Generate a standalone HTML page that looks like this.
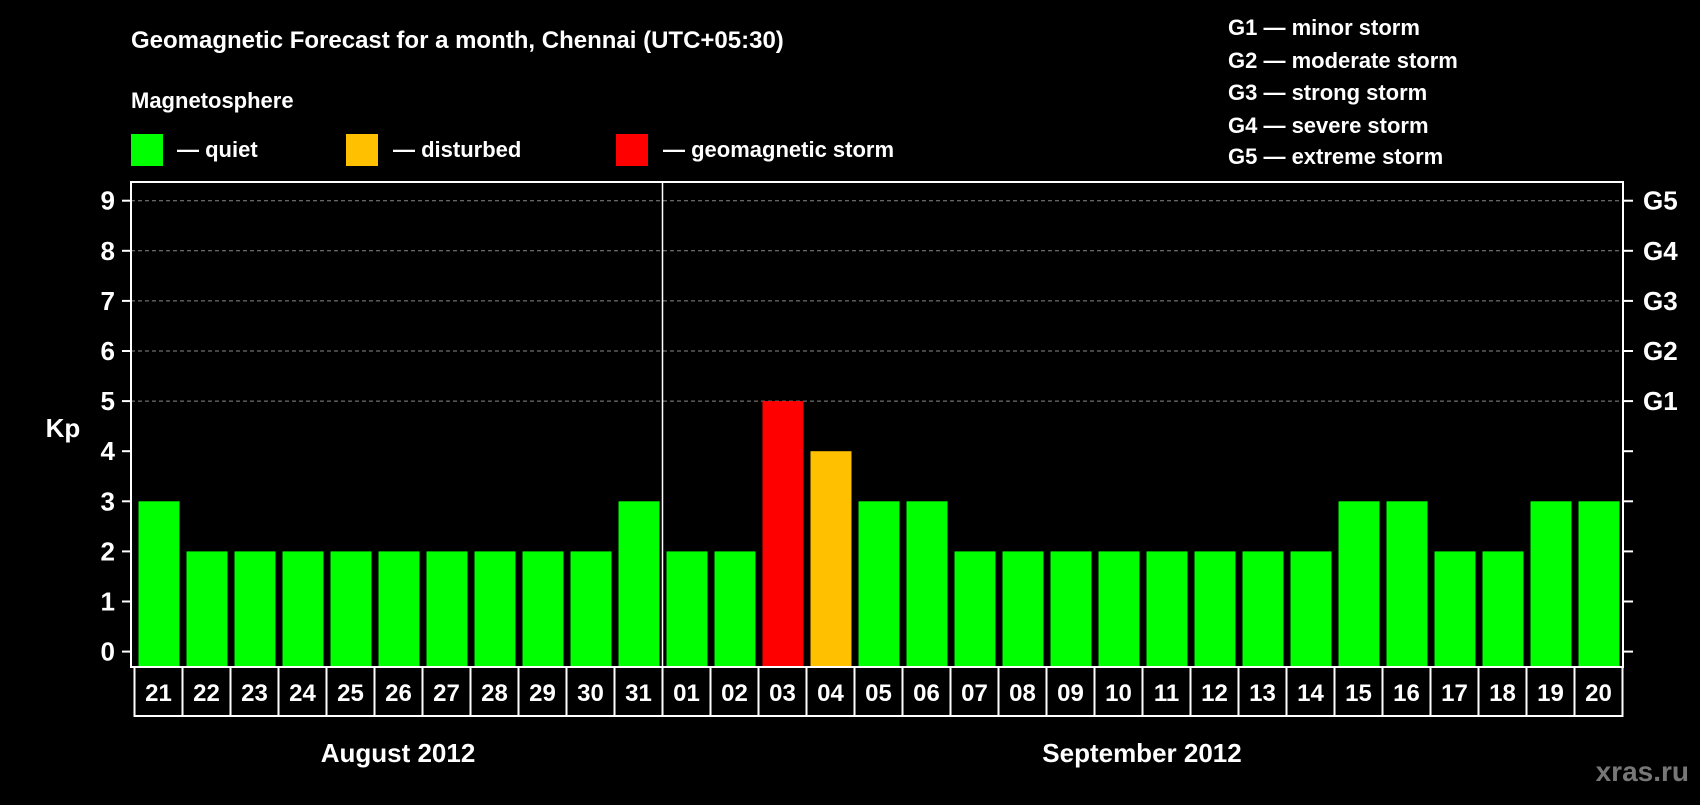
<!DOCTYPE html>
<html><head><meta charset="utf-8"><style>
body{margin:0;background:#000;width:1700px;height:800px;overflow:hidden;font-family:"Liberation Sans",sans-serif}
</style></head><body>
<svg width="1700" height="800" xmlns="http://www.w3.org/2000/svg" font-family="Liberation Sans, sans-serif" font-weight="bold" fill="#fff">
<rect width="1700" height="800" fill="#000"/>
<text x="131" y="48" font-size="24">Geomagnetic Forecast for a month, Chennai (UTC+05:30)</text>
<text x="131" y="108" font-size="22">Magnetosphere</text>
<g><rect x="131" y="134" width="32" height="32" fill="#00ff00"/><text x="177" y="157" font-size="22">— quiet</text></g>
<g><rect x="346" y="134" width="32" height="32" fill="#ffc000"/><text x="393" y="157" font-size="22">— disturbed</text></g>
<g><rect x="616" y="134" width="32" height="32" fill="#ff0000"/><text x="663" y="157" font-size="22">— geomagnetic storm</text></g>
<g font-size="22">
<text x="1228" y="35">G1 — minor storm</text>
<text x="1228" y="68">G2 — moderate storm</text>
<text x="1228" y="100">G3 — strong storm</text>
<text x="1228" y="133">G4 — severe storm</text>
<text x="1228" y="164">G5 — extreme storm</text>
</g>
<g id="plot"></g>
<text x="63" y="437" font-size="26" text-anchor="middle">Kp</text>
<text x="398" y="762" font-size="26" text-anchor="middle">August 2012</text>
<text x="1142" y="762" font-size="26" text-anchor="middle">September 2012</text>
<text x="1689" y="781" font-size="28" text-anchor="end" fill="#777">xras.ru</text>
</svg>
<script>
const days=["21","22","23","24","25","26","27","28","29","30","31","01","02","03","04","05","06","07","08","09","10","11","12","13","14","15","16","17","18","19","20"];
const kp=[3,2,2,2,2,2,2,2,2,2,3,2,2,5,4,3,3,2,2,2,2,2,2,2,2,3,3,2,2,3,3];
const yTicks=[0,1,2,3,4,5,6,7,8,9];
const gLabels=["G1","G2","G3","G4","G5"];
const gValues=[5,6,7,8,9];
const NS="http://www.w3.org/2000/svg";
const L=131,T=182,R=1623,B=667,X0=134.5,P=48;
const y=v=>651.6-v*50.1;
const x=i=>X0+i*P;
const g=document.getElementById('plot');
function mk(t,a){const e=document.createElementNS(NS,t);for(const k in a)e.setAttribute(k,a[k]);g.appendChild(e);return e;}
yTicks.forEach(v=>{
 if(v>=5){const l=mk('line',{x1:L,x2:R,y1:y(v),y2:y(v),stroke:'#888','stroke-dasharray':'4,3','stroke-width':1});
 
 }
 const tl=mk('line',{x1:L-9,x2:L,y1:y(v),y2:y(v),stroke:'#fff','stroke-width':2});
 
 
 const tr=mk('line',{x1:R,x2:R+10,y1:y(v),y2:y(v),stroke:'#fff','stroke-width':2});
 
 
 const t=mk('text',{x:115,y:y(v)+9,'font-size':26,'text-anchor':'end'});t.textContent=v;
 
 
});
gLabels.forEach((s,i)=>{const t=mk('text',{x:1643,y:y(gValues[i])+9,'font-size':26});t.textContent=s;
 
 });
kp.forEach((v,i)=>{
 const c=v>=5?'#ff0000':v>=4?'#ffc000':'#00ff00';
 const r=mk('rect',{x:x(i)+4,y:y(v),width:41,height:B-y(v),fill:c});
 
 
 const b=mk('rect',{x:x(i),y:B,width:P,height:49,fill:'none',stroke:'#fff','stroke-width':2});
 
 
 const t=mk('text',{x:x(i)+P/2,y:B+34,'font-size':24,'text-anchor':'middle'});t.textContent=days[i];
 
 
});
const sep=mk('line',{x1:x(11),x2:x(11),y1:T,y2:B,stroke:'#fff','stroke-width':1.5});


const fr=mk('rect',{x:L,y:T,width:R-L,height:B-T,fill:'none',stroke:'#fff','stroke-width':2});


</script>
</body></html>
